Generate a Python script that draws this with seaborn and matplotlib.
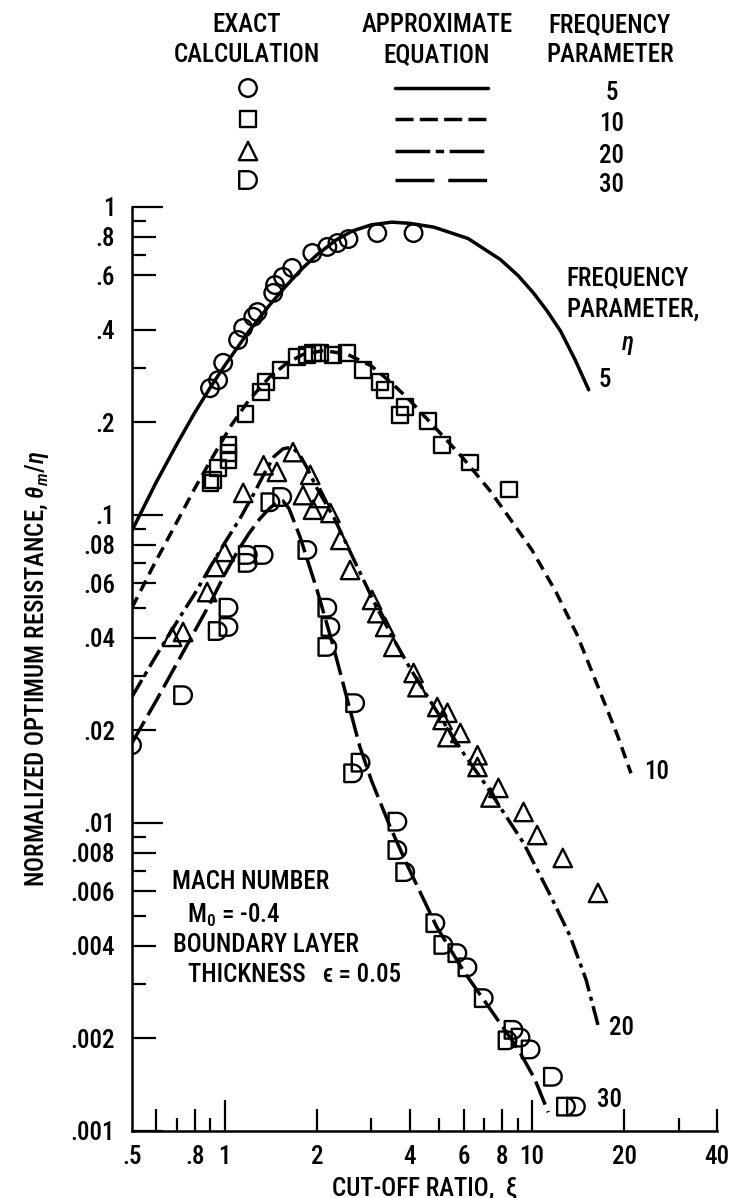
import matplotlib
matplotlib.use("Agg")
import numpy as np
import pandas as pd
import matplotlib.pyplot as plt
import seaborn as sns
from matplotlib import font_manager as fm
from matplotlib.path import Path
from matplotlib.ticker import FixedLocator, FixedFormatter, NullLocator

# ---------------- data ----------------
freq_params = [5, 10, 20, 30]

# approximate equation curves
approx5_xi = [0.5, 0.6, 0.7, 0.8, 0.9, 1.0, 1.2, 1.4, 1.6, 1.8, 2.0, 2.3, 2.6, 3.0, 3.5,
              4.0, 4.8, 6.2, 7.9, 9.0, 10.1, 11.2, 12.4, 13.8, 15.3]
approx5_theta = [0.089, 0.128, 0.170, 0.215, 0.260, 0.305, 0.395, 0.48, 0.56, 0.635, 0.70,
                 0.78, 0.835, 0.875, 0.893, 0.885, 0.86, 0.79, 0.675, 0.60, 0.527, 0.46,
                 0.395, 0.32, 0.255]
approx10_xi = [0.5, 0.585, 0.7, 0.8, 0.9, 1.05, 1.2, 1.4, 1.6, 1.8, 2.1, 2.5, 3.0, 3.5, 4.0,
               4.6, 5.2, 6.0, 7.3, 8.5, 10, 12, 14, 16.7, 19, 21]
approx10_theta = [0.050, 0.068, 0.095, 0.122, 0.150, 0.195, 0.236, 0.28, 0.312, 0.332, 0.342,
                  0.333, 0.305, 0.268, 0.236, 0.203, 0.178, 0.152, 0.12, 0.097, 0.077, 0.056,
                  0.041, 0.0265, 0.0192, 0.0145]
approx20_xi = [0.5, 0.6, 0.7, 0.8, 0.9, 1.0, 1.12, 1.25, 1.35, 1.45, 1.55, 1.65, 1.75, 1.85,
               2.0, 2.27, 2.5, 2.8, 3.1, 3.5, 4.0, 4.6, 5.2, 6.0, 7.0, 8.0, 9.4, 11.5, 13.3,
               15.0, 16.5]
approx20_theta = [0.0257, 0.035, 0.045, 0.0555, 0.068, 0.081, 0.097, 0.118, 0.137, 0.155,
                  0.164, 0.166, 0.158, 0.143, 0.122, 0.098, 0.08, 0.063, 0.051, 0.0405,
                  0.032, 0.0255, 0.021, 0.0168, 0.0135, 0.011, 0.0086, 0.0058, 0.0043,
                  0.0031, 0.00216]
approx30_xi = [0.5, 0.6, 0.7, 0.8, 0.9, 1.0, 1.1, 1.2, 1.3, 1.4, 1.48, 1.55, 1.62, 1.76, 2.0,
               2.25, 2.5, 2.75, 3.0, 3.46, 3.93, 4.9, 6.0, 7.0, 9.0, 10.2, 11.3]
approx30_theta = [0.0182, 0.025, 0.033, 0.042, 0.052, 0.064, 0.076, 0.087, 0.097, 0.105,
                  0.110, 0.111, 0.105, 0.085, 0.057, 0.038, 0.0255, 0.0178, 0.0138, 0.0097,
                  0.0073, 0.0046, 0.0033, 0.00265, 0.00185, 0.00148, 0.00115]

# exact calculation points
exact5_xi = [0.897, 0.953, 0.99, 1.107, 1.15, 1.24, 1.28, 1.44, 1.46, 1.55, 1.66, 1.93, 2.16,
             2.33, 2.53, 3.14, 4.12]
exact5_theta = [0.258, 0.274, 0.312, 0.37, 0.405, 0.44, 0.456, 0.526, 0.558, 0.593, 0.634,
                0.709, 0.742, 0.764, 0.787, 0.823, 0.823]
exact10_xi = [0.90, 0.92, 0.95, 1.03, 1.03, 1.03, 1.17, 1.31, 1.36, 1.52, 1.72, 1.86, 1.94,
              2.05, 2.26, 2.51, 2.83, 3.21, 3.33, 3.73, 3.87, 4.6, 5.1, 6.3, 8.4]
exact10_theta = [0.127, 0.130, 0.142, 0.151, 0.159, 0.169, 0.213, 0.251, 0.27, 0.296, 0.326,
                 0.331, 0.336, 0.336, 0.331, 0.336, 0.296, 0.27, 0.255, 0.211, 0.224, 0.202,
                 0.169, 0.148, 0.121]
exact20_xi = [0.675, 0.733, 0.878, 0.932, 1.0, 1.15, 1.34, 1.48, 1.67, 1.90, 1.80, 2.05, 1.94,
              2.21, 2.38, 2.56, 3.02, 3.14, 3.33, 3.54, 4.12, 4.24, 4.92, 5.12, 5.31, 5.31,
              5.85, 6.65, 6.65, 7.78, 7.33, 9.39, 10.4, 12.6, 16.4]
exact20_theta = [0.0402, 0.0417, 0.0562, 0.0678, 0.0759, 0.118, 0.145, 0.138, 0.160, 0.135,
                 0.116, 0.1135, 0.104, 0.1015, 0.083, 0.0663, 0.053, 0.048, 0.0433, 0.0373,
                 0.0307, 0.0276, 0.0238, 0.0216, 0.019, 0.0228, 0.0196, 0.0166, 0.0152,
                 0.0130, 0.0121, 0.01086, 0.00914, 0.0077, 0.00593]
exact30_xi = [0.5, 0.733, 0.95, 1.03, 1.03, 1.19, 1.19, 1.34, 1.41, 1.54, 1.86, 2.16, 2.21,
              2.16, 2.66, 2.77, 2.62, 3.65, 3.65, 3.87, 4.85, 5.15, 5.72, 6.17, 6.97, 8.71,
              8.33, 9.18, 9.9, 11.7, 12.9, 13.9]
exact30_theta = [0.0179, 0.026, 0.042, 0.0433, 0.05, 0.0742, 0.0699, 0.0742, 0.110, 0.1144,
                 0.077, 0.05, 0.0433, 0.0373, 0.0245, 0.0157, 0.0145, 0.0101, 0.00817,
                 0.00693, 0.00473, 0.00402, 0.00378, 0.0034, 0.0027, 0.00213, 0.00197,
                 0.00201, 0.00184, 0.0015, 0.0012, 0.0012]

xtick_values = [0.5, 0.6, 0.7, 0.8, 0.9, 1, 2, 3, 4, 5, 6, 7, 8, 9, 10, 20, 30, 40]
xtick_labels = [".5", "", "", ".8", "", "1", "2", "", "4", "", "6", "", "8", "", "10", "20",
                "", "40"]
ytick_values = [0.001, 0.002, 0.003, 0.004, 0.005, 0.006, 0.007, 0.008, 0.009,
                0.01, 0.02, 0.03, 0.04, 0.05, 0.06, 0.07, 0.08, 0.09,
                0.1, 0.2, 0.3, 0.4, 0.5, 0.6, 0.7, 0.8, 0.9, 1]
ytick_labels = [".001", ".002", "", ".004", "", ".006", "", ".008", "",
                ".01", ".02", "", ".04", "", ".06", "", ".08", "",
                ".1", ".2", "", ".4", "", ".6", "", ".8", "", "1"]

# ---------------- styling ----------------
sns.set_theme(style="ticks")
avail = {f.name for f in fm.fontManager.ttflist}
narrow = None
stretch = "normal"
for cand in ["Liberation Sans Narrow", "Roboto Condensed", "Open Sans Condensed",
             "Noto Sans Condensed", "DejaVu Sans Condensed"]:
    if cand in avail:
        narrow = cand
        break
if narrow is None:
    if any(f.name == "DejaVu Sans" and f.stretch == "condensed" for f in fm.fontManager.ttflist):
        narrow, stretch = "DejaVu Sans", "condensed"
    else:
        narrow = "Liberation Sans"

plt.rcParams.update({
    "font.family": [narrow, "DejaVu Sans"],
    "font.stretch": stretch,
    "font.weight": "medium",
    "font.size": 18,
    "text.color": "black",
    "axes.labelcolor": "black",
    "axes.labelweight": "medium",
    "xtick.color": "black",
    "ytick.color": "black",
    "axes.edgecolor": "black",
    "lines.scale_dashes": False,
    "mathtext.fontset": "custom",
    "mathtext.rm": narrow + ":medium",
    "mathtext.it": narrow + ":italic:medium",
    "mathtext.bf": narrow + ":bold",
})

W, H = 732, 1198
fig = plt.figure(figsize=(W / 100, H / 100), dpi=100)
fig.patch.set_facecolor("white")
ax = fig.add_axes([132 / W, 1 - 1131 / H, (717 - 132) / W, (1131 - 207) / H])
ax.set_facecolor("white")
ax.set_xscale("log")
ax.set_yscale("log")

curves = pd.concat([
    pd.DataFrame({"xi": approx5_xi, "theta": approx5_theta, "eta": 5}),
    pd.DataFrame({"xi": approx10_xi, "theta": approx10_theta, "eta": 10}),
    pd.DataFrame({"xi": approx20_xi, "theta": approx20_theta, "eta": 20}),
    pd.DataFrame({"xi": approx30_xi, "theta": approx30_theta, "eta": 30}),
], ignore_index=True)
exact = {
    5: (exact5_xi, exact5_theta),
    10: (exact10_xi, exact10_theta),
    20: (exact20_xi, exact20_theta),
    30: (exact30_xi, exact30_theta),
}

curve_dashes = {5: "", 10: (8.5, 5.0), 20: (14, 4, 3, 4), 30: (18, 5)}
legend_dashes = {5: "", 10: (13, 4.5), 20: (25, 4, 6, 4), 30: (28, 10)}

arc = np.linspace(np.pi / 2, -np.pi / 2, 25)
d_verts = [(-0.5, -0.5), (-0.5, 0.5)] + [(0.5 * np.cos(t), 0.5 * np.sin(t)) for t in arc] + [(-0.5, -0.5)]
d_codes = [Path.MOVETO] + [Path.LINETO] * (len(d_verts) - 2) + [Path.CLOSEPOLY]
d_marker = Path(d_verts, d_codes)
markers = {5: "o", 10: "s", 20: "^", 30: d_marker}
msizes = {5: 160, 10: 130, 20: 175, 30: 160}

sns.lineplot(data=curves, x="xi", y="theta", style="eta", dashes=curve_dashes,
             color="black", linewidth=2.5, estimator=None, sort=False, legend=False, ax=ax)

for eta in freq_params:
    xs, ys = exact[eta]
    sns.scatterplot(x=xs, y=ys, marker=markers[eta], s=msizes[eta], facecolor="none",
                    edgecolor="black", linewidth=1.7, ax=ax, zorder=3)

ax.set_xlim(0.5, 40)
ax.set_ylim(0.001, 1)

for s in ["top", "right"]:
    ax.spines[s].set_visible(False)
for s in ["left", "bottom"]:
    ax.spines[s].set_linewidth(1.8)

ax.tick_params(axis="both", which="both", direction="in", width=1.6)
ax.tick_params(axis="y", pad=12, labelsize=18)
ax.tick_params(axis="x", pad=10, labelsize=18)


def set_ticks(axis, values, labels, long_len, mid_len, short_len, mid_extra=()):
    axis.set_major_locator(FixedLocator(values))
    axis.set_major_formatter(FixedFormatter(labels))
    axis.set_minor_locator(NullLocator())
    ticks = axis.get_major_ticks(len(values))
    for t, v, lab in zip(ticks, values, labels):
        lv = np.log10(v)
        if abs(lv - round(lv)) < 1e-9:
            L = long_len
        elif lab or v in mid_extra:
            L = mid_len
        else:
            L = short_len
        if v == 0.5:
            L = 0
        t.tick1line.set_markersize(L)


set_ticks(ax.xaxis, xtick_values, xtick_labels, 22, 16, 9.5, mid_extra=(0.6,))
set_ticks(ax.yaxis, ytick_values, ytick_labels, 22, 17, 10)
for lab in ax.get_xticklabels() + ax.get_yticklabels():
    lab.set_fontweight("medium")

ax.set_xlabel("CUT-OFF RATIO,  \u03be", fontsize=18)
ax.xaxis.set_label_coords(0.5, -0.049)
ax.set_ylabel(r"NORMALIZED OPTIMUM RESISTANCE, $\theta_m/\eta$", fontsize=18, va="center")
ax.yaxis.set_label_coords(-0.162, 0.5)

# labels near the curves
ax.text(12.9, 0.588, "FREQUENCY", ha="left", va="center", fontsize=18)
ax.text(12.9, 0.463, "PARAMETER,", ha="left", va="center", fontsize=18)
ax.text(20.5, 0.361, "\u03b7", ha="center", va="center", fontsize=18, style="italic")
ax.text(16.5, 0.274, "5", ha="left", va="center", fontsize=18)
ax.text(23.2, 0.0146, "10", ha="left", va="center", fontsize=18)
ax.text(17.8, 0.00216, "20", ha="left", va="center", fontsize=18)
ax.text(16.3, 0.00126, "30", ha="left", va="center", fontsize=18)

# conditions block
ax.text(0.068, 0.2695, "MACH NUMBER", transform=ax.transAxes, ha="left", va="center", fontsize=18)
ax.text(0.094, 0.2338, r"M$_\mathregular{0}$ = -0.4", transform=ax.transAxes, ha="left",
        va="center", fontsize=18)
ax.text(0.070, 0.2013, "BOUNDARY LAYER", transform=ax.transAxes, ha="left", va="center",
        fontsize=18)
ax.text(0.0957, 0.1688, "THICKNESS   \u03f5 = 0.05", transform=ax.transAxes, ha="left",
        va="center", fontsize=18)

# ---------------- header / key ----------------
lax = fig.add_axes([0, 0, 1, 1], facecolor="none")
lax.set_xlim(0, W)
lax.set_ylim(H, 0)
lax.axis("off")

for xc, l1, l2 in [(247, "EXACT", "CALCULATION"), (437, "APPROXIMATE", "EQUATION"),
                   (610, "FREQUENCY", "PARAMETER")]:
    lax.text(xc, 32, l1, ha="center", va="baseline", fontsize=18)
    lax.text(xc, 62, l2, ha="center", va="baseline", fontsize=18)

row_y = [88, 119, 151, 180]
for eta, yy in zip(freq_params, row_y):
    sns.scatterplot(x=[248], y=[yy], marker=markers[eta], s=msizes[eta], facecolor="none",
                    edgecolor="black", linewidth=1.7, ax=lax)
    ln, = lax.plot([395, 488], [yy, yy], color="black", linewidth=2.5)
    if legend_dashes[eta]:
        ln.set_dashes(legend_dashes[eta])
    lax.text(612, yy + 5, str(eta), ha="center", va="center", fontsize=18)

lax.set_xlim(0, W)
lax.set_ylim(H, 0)

fig.savefig("out.png", dpi=100)
